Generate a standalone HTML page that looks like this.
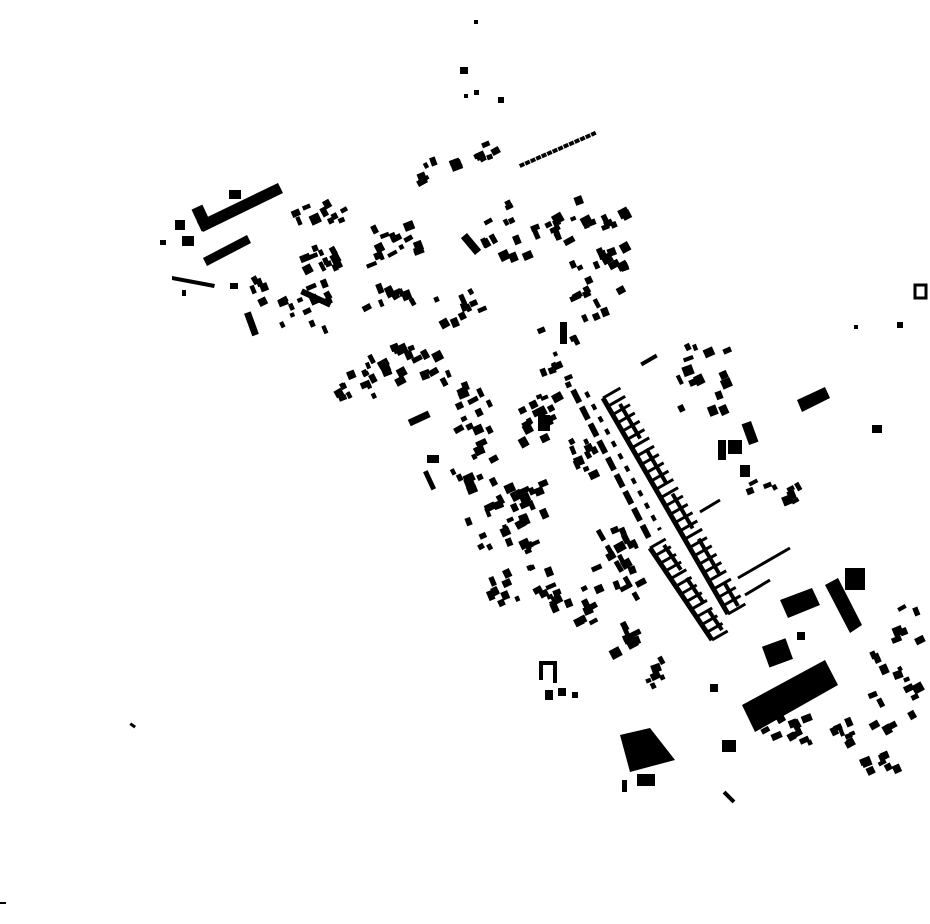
<!DOCTYPE html>
<html><head><meta charset="utf-8"><style>html,body{margin:0;padding:0;background:#fff}svg{display:block}</style></head>
<body>
<svg id="s" width="930" height="924" viewBox="0 0 930 924" xmlns="http://www.w3.org/2000/svg">
<g fill="#000" stroke="none">
<polygon points="197,222 278,183 283,193 203,232"/>
<rect x="196" y="206" width="12" height="24" transform="rotate(-25 202 218)"/>
<polygon points="203,258 247,235 251,243 207,266"/>
<rect x="175" y="220" width="10" height="10"/>
<rect x="182" y="236" width="12" height="10"/>
<rect x="229" y="190" width="12" height="9"/>
<rect x="160" y="240" width="6" height="5"/>
<polygon points="172,276 215,284 214,288 172,280"/>
<rect x="182" y="290" width="4" height="6"/>
<rect x="230" y="283" width="8" height="6"/>
<polygon points="742,705 825,660 838,685 755,732"/>
<polygon points="620,735 650,728 675,760 630,772"/>
<rect x="637" y="774" width="18" height="12"/>
<rect x="622" y="780" width="5" height="12"/>
<polygon points="780,600 812,588 820,605 788,618"/>
<polygon points="825,585 838,578 862,625 850,633"/>
<rect x="845" y="568" width="20" height="22"/>
<polygon points="797,400 825,387 830,398 802,412"/>
<rect x="728" y="440" width="14" height="14"/>
<rect x="745" y="422" width="10" height="22" transform="rotate(-20 750 433)"/>
<rect x="718" y="440" width="8" height="20"/>
<rect x="740" y="465" width="10" height="12"/>
<rect x="765" y="642" width="25" height="22" transform="rotate(-20 777 653)"/>
<rect x="797" y="632" width="8" height="8"/>
<rect x="915" y="285" width="11" height="13" fill="none" stroke="#000" stroke-width="3"/>
<path d="M541 680 V663 H555 V683" fill="none" stroke="#000" stroke-width="4"/>
<rect x="545" y="690" width="8" height="10"/>
<rect x="558" y="688" width="8" height="8"/>
<rect x="572" y="692" width="6" height="6"/>
<rect x="710" y="684" width="8" height="8"/>
<rect x="722" y="740" width="14" height="12"/>
<rect x="722" y="795" width="14" height="4" transform="rotate(45 729 797)"/>
<rect x="872" y="425" width="10" height="8"/>
<rect x="854" y="325" width="4" height="4"/>
<rect x="897" y="322" width="6" height="6"/>
<rect x="130" y="724" width="6" height="3" transform="rotate(35 133 725)"/>
<rect x="0" y="902" width="6" height="2"/>
<rect x="474" y="20" width="4" height="4"/>
<rect x="460" y="67" width="8" height="7"/>
<rect x="474" y="90" width="5" height="5"/>
<rect x="464" y="94" width="4" height="4"/>
<rect x="498" y="97" width="6" height="6"/>
<rect x="460" y="240" width="22" height="8" transform="rotate(50 471 244)"/>
<rect x="560" y="322" width="7" height="22"/>
<rect x="408" y="415" width="22" height="7" transform="rotate(-25 419 418)"/>
<rect x="427" y="470" width="5" height="20" transform="rotate(-25 430 480)"/>
<rect x="427" y="455" width="12" height="8"/>
<rect x="300" y="295" width="32" height="6" transform="rotate(25 316 298)"/>
<rect x="248" y="312" width="7" height="24" transform="rotate(-20 251 324)"/>
<rect x="538" y="415" width="12" height="16"/>
<rect x="640" y="358" width="18" height="4" transform="rotate(-30 649 360)"/>
</g>
<g id="gen" fill="#000"></g>
<g fill="none" stroke="#000" stroke-width="5">
<path d="M603 398 L728 614"/>
<path d="M620 404 L738 606" stroke-width="4" stroke-dasharray="40 12"/>
<path d="M650 548 L712 640"/>
<path d="M664 545 L722 630" stroke-width="4" stroke-dasharray="30 10"/>
<path d="M573 390 L650 540" stroke-width="6" stroke-dasharray="14 5"/>
<path d="M586 392 L660 530" stroke-width="4" stroke-dasharray="6 8"/>
<path d="M598 530 L638 600" stroke-width="5" stroke-dasharray="12 6"/>
</g>
<g id="rungs" stroke="#000" stroke-width="3"></g>
</svg>
<script>
(function(){
var seed=12345;function r(){seed=(seed*16807)%2147483647;return (seed-1)/2147483646;}
var g=document.getElementById('gen'),ns='http://www.w3.org/2000/svg';
function rect(x,y,w,h,a){var e=document.createElementNS(ns,'rect');e.setAttribute('x',x-w/2);e.setAttribute('y',y-h/2);e.setAttribute('width',w);e.setAttribute('height',h);e.setAttribute('transform','rotate('+a+' '+x+' '+y+')');g.appendChild(e);}
var C=[[440,170,8,20,14],[485,155,6,12,12],[320,215,10,25,15],[395,245,15,30,20],[330,258,12,25,12],[290,305,20,40,25],[390,300,10,25,15],[520,228,20,40,30],[590,235,25,40,35],[605,300,10,30,20],[405,365,25,55,18],[350,388,8,25,10],[470,420,15,20,35],[540,420,15,20,25],[700,380,15,30,35],[770,492,10,30,10],[500,520,25,35,35],[520,585,15,30,20],[575,610,15,25,25],[620,560,15,25,30],[655,680,6,10,20],[810,730,20,45,15],[895,690,15,25,40],[890,762,8,25,12],[905,625,6,15,20],[470,470,10,25,20],[530,500,8,15,20],[560,360,10,20,30],[630,640,8,15,15],[580,460,10,15,20],[460,310,10,25,20]];
C.forEach(function(c){for(var i=0;i<c[2];i++){var x=c[0]+(r()*2-1)*c[3],y=c[1]+(r()*2-1)*c[4];rect(x,y,4+r()*7,4+r()*6,-30+r()*10);}});
for(var i=0;i<14;i++){rect(522+i*5.5,165-i*2.4,5,4,-25);}
var R=document.getElementById('rungs');
function rungs(x1,y1,x2,y2,n,len){var dx=(x2-x1)/n,dy=(y2-y1)/n;for(var i=0;i<=n;i++){var x=x1+dx*i,y=y1+dy*i;var l=document.createElementNS(ns,'line');l.setAttribute('x1',x);l.setAttribute('y1',y);l.setAttribute('x2',x+len*0.87);l.setAttribute('y2',y-len*0.5);R.appendChild(l);}}
rungs(603,398,728,614,26,20);rungs(650,548,712,640,12,18);
var l=document.createElementNS(ns,'path');l.setAttribute('d','M738 578 L790 548 M745 595 L770 580 M700 512 L720 500');l.setAttribute('fill','none');R.appendChild(l);
})();
</script>
</body></html>
